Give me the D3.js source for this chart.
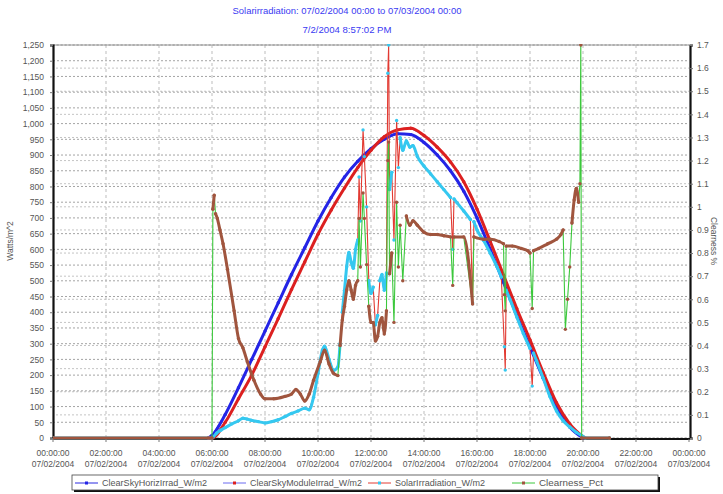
<!DOCTYPE html>
<html><head><meta charset="utf-8">
<script src="https://cdn.jsdelivr.net/npm/d3@7"></script>
<style>body{margin:0;background:#fff} text{font-family:"Liberation Sans",Arial,sans-serif}</style>
</head><body><svg id="c" width="723" height="494"></svg>
<script>
const titleLines = ["Solarirradiation: 07/02/2004 00:00 to 07/03/2004 00:00", "7/2/2004 8:57:02 PM"];
const yLeftTitle = "Watts/m^2";
const yRightTitle = "Clearness %";
const seriesNames = ["ClearSkyHorizIrrad_W/m2", "ClearSkyModuleIrrad_W/m2", "SolarIrradiation_W/m2", "Clearness_Pct"];
const xTickTimes = ["00:00","02:00","04:00","06:00","08:00","10:00","12:00","14:00","16:00","18:00","20:00","22:00","24:00"];
const xTickLabels = ["00:00:00","02:00:00","04:00:00","06:00:00","08:00:00","10:00:00","12:00:00","14:00:00","16:00:00","18:00:00","20:00:00","22:00:00","00:00:00"];
const xTickDates = ["07/02/2004","07/02/2004","07/02/2004","07/02/2004","07/02/2004","07/02/2004","07/02/2004","07/02/2004","07/02/2004","07/02/2004","07/02/2004","07/02/2004","07/03/2004"];
const leftTicks = [0,50,100,150,200,250,300,350,400,450,500,550,600,650,700,750,800,850,900,950,1000,1050,1100,1150,1200,1250];
const rightTicks = [0,0.1,0.2,0.3,0.4,0.5,0.6,0.7,0.8,0.9,1,1.1,1.2,1.3,1.4,1.5,1.6,1.7];

const clearTimes = ["05:52","06:00","06:30","07:00","07:30","08:00","08:30","09:00","09:30","10:00","10:30","11:00","11:30","12:00","12:30","13:00","13:30","14:00","14:30","15:00","15:30","16:00","16:30","17:00","17:30","18:00","18:30","19:00","19:30","20:00"];
const clearHoriz = [0,8,75,160,250,340,430,520,605,690,765,830,880,920,950,968,965,940,900,850,785,700,600,495,390,290,190,100,35,0];
const clearModule = [0,0,50,125,200,290,380,472,560,648,725,795,860,915,958,980,985,962,925,878,815,728,625,518,412,312,208,112,45,4];

const solarTimes = ["00:00","06:00","06:10","06:20","06:30","06:45","07:00","07:10","07:20","07:30","07:45","08:00","08:15","08:30","08:45","09:00","09:15","09:30","09:40","09:50","10:00","10:10","10:15","10:25","10:35","10:45","10:50","10:55","11:00","11:05","11:10","11:15","11:20","11:25","11:30","11:33","11:36","11:42","11:45","11:50","11:55","12:00","12:05","12:10","12:15","12:20","12:25","12:30","12:35","12:38","12:40","12:42","12:47","12:52","12:58","13:02","13:06","13:12","13:20","13:28","13:35","13:45","14:00","14:15","14:30","14:45","15:00","15:05","15:08","15:15","15:30","15:45","15:50","15:53","16:00","16:15","16:30","16:45","16:55","17:02","17:04","17:06","17:15","17:30","17:45","18:00","18:05","18:08","18:15","18:30","18:45","19:00","19:15","19:30","19:45","20:00","20:05","21:00"];
const solarValues = [0,0,15,25,33,45,55,63,60,56,52,48,52,58,68,78,86,95,90,130,205,280,292,250,215,226,300,400,470,545,590,560,540,600,630,830,690,980,895,735,500,460,480,360,390,500,520,470,525,1160,1250,790,845,630,1010,860,955,915,945,925,930,895,865,840,815,790,765,600,760,748,722,695,430,688,662,628,588,545,512,290,216,470,440,385,332,285,165,270,245,190,132,86,55,35,18,5,0,0];

const clearnessTimes = ["00:00","06:00","06:02","06:05","06:08","06:12","06:18","06:25","06:35","06:50","07:00","07:10","07:20","07:35","07:50","08:00","08:20","08:45","09:00","09:10","09:20","09:30","09:40","09:50","10:05","10:15","10:25","10:35","10:45","10:50","10:55","11:00","11:05","11:10","11:15","11:20","11:25","11:30","11:33","11:36","11:42","11:45","11:50","11:55","12:00","12:05","12:10","12:15","12:20","12:25","12:30","12:35","12:38","12:40","12:42","12:47","12:52","12:58","13:02","13:06","13:12","13:20","13:28","13:35","13:45","14:00","14:15","14:30","14:45","15:00","15:05","15:08","15:30","15:50","15:53","16:15","16:30","16:50","17:00","17:02","17:04","17:06","17:20","17:40","17:55","18:00","18:05","18:08","18:20","18:40","19:00","19:10","19:15","19:20","19:25","19:30","19:35","19:40","19:45","19:50","19:53","19:55","19:57","21:00"];
const clearnessValues = [0,0,0.99,1.05,0.97,0.95,0.90,0.84,0.73,0.55,0.43,0.39,0.33,0.25,0.19,0.17,0.17,0.18,0.19,0.21,0.19,0.16,0.19,0.25,0.33,0.38,0.32,0.28,0.27,0.40,0.51,0.57,0.64,0.68,0.64,0.60,0.66,0.68,0.95,0.74,1.06,0.95,0.75,0.57,0.50,0.50,0.42,0.44,0.50,0.52,0.45,0.55,1.20,1.28,0.71,0.80,0.50,1.02,0.74,0.92,0.68,0.96,0.92,0.94,0.92,0.89,0.88,0.88,0.875,0.87,0.66,0.87,0.87,0.58,0.87,0.86,0.86,0.85,0.84,0.62,0.55,0.83,0.83,0.82,0.81,0.80,0.56,0.81,0.82,0.84,0.86,0.88,0.90,0.47,0.60,0.74,0.93,1.03,1.08,1.02,1.10,1.70,0,0];

const lineColors = ["#2a2ae0", "#6a6af0", "#e23a32", "#3cc83c"];
const markColors = ["#2424e6", "#dc2020", "#35c8f0", "#a0553e"];

const parseT = s => { const [h, m] = s.split(":").map(Number); return h + m / 60; };
const svg = d3.select("#c");
const M = {left: 53, right: 689, top: 45, bottom: 438};
const x = d3.scaleLinear().domain([0, 24]).range([M.left, M.right]);
const yL = d3.scaleLinear().domain([0, 1250]).range([M.bottom, M.top]);
const yR = d3.scaleLinear().domain([0, 1.7]).range([M.bottom, M.top]);

// title
const titleWidths = [229, 89];
svg.append("g").selectAll("text").data(titleLines).join("text")
  .attr("x", 347).attr("y", (d, i) => 14 + i * 19).attr("text-anchor", "middle")
  .attr("font-size", 8.5).attr("fill", "#3a3af2")
  .attr("textLength", (d, i) => titleWidths[i]).attr("lengthAdjust", "spacingAndGlyphs").text(d => d);

// grid
const grid = svg.append("g");
grid.selectAll(null).data(rightTicks).join("line")
  .attr("x1", M.left).attr("x2", M.right).attr("y1", d => yR(d)).attr("y2", d => yR(d))
  .attr("stroke", "#c4c4c4").attr("stroke-dasharray", "2,2").attr("stroke-dashoffset", 1);
grid.selectAll(null).data(leftTicks).join("line")
  .attr("x1", M.left).attr("x2", M.right).attr("y1", d => yL(d)).attr("y2", d => yL(d))
  .attr("stroke", "#a4a4a4").attr("stroke-dasharray", "2,2");
grid.selectAll(null).data(xTickTimes.slice(1, -1)).join("line")
  .attr("x1", d => x(parseT(d))).attr("x2", d => x(parseT(d))).attr("y1", M.top).attr("y2", M.bottom)
  .attr("stroke", "#bdbdbd").attr("stroke-dasharray", "3,3");

// frame
svg.append("line").attr("x1", M.left).attr("x2", M.right).attr("y1", M.top).attr("y2", M.top).attr("stroke", "#9a9a9a");
svg.append("line").attr("x1", M.left).attr("x2", M.right + 1).attr("y1", M.bottom + 1).attr("y2", M.bottom + 1).attr("stroke", "#111").attr("stroke-width", 2.2);

// axes
const axL = svg.append("g").attr("transform", `translate(${M.left},0)`)
  .call(d3.axisLeft(yL).tickValues(leftTicks).tickFormat(d3.format(",")).tickSize(3).tickPadding(6));
const axR = svg.append("g").attr("transform", `translate(${M.right + 1},0)`)
  .call(d3.axisRight(yR).tickValues(rightTicks).tickFormat(d => String(+d.toFixed(1))).tickSize(3).tickPadding(4));
[axL, axR].forEach(a => {
  a.select(".domain").attr("stroke", "#111").attr("stroke-width", 2.2);
  a.selectAll(".tick line").attr("stroke", "#777");
  a.selectAll(".tick text").attr("font-size", 8.5).attr("fill", "#555").attr("font-family", "Liberation Sans, Arial, sans-serif");
});

// x axis labels
const xl = svg.append("g");
xl.selectAll(null).data(xTickTimes).join("line")
  .attr("x1", d => x(parseT(d))).attr("x2", d => x(parseT(d))).attr("y1", M.bottom + 1).attr("y2", M.bottom + 4).attr("stroke", "#777");
const xt = xl.selectAll(null).data(xTickTimes).join("text")
  .attr("text-anchor", "middle").attr("font-size", 8.5).attr("fill", "#555");
xt.append("tspan").attr("x", d => x(parseT(d))).attr("y", 456).text((d, i) => xTickLabels[i]);
xt.append("tspan").attr("x", d => x(parseT(d))).attr("y", 467).text((d, i) => xTickDates[i]);

// axis titles
svg.append("text").attr("transform", "translate(13,241) rotate(-90)").attr("text-anchor", "middle")
  .attr("font-size", 8.5).attr("fill", "#555").text(yLeftTitle);
svg.append("text").attr("transform", "translate(711,241) rotate(90)").attr("text-anchor", "middle")
  .attr("font-size", 8.5).attr("fill", "#555").text(yRightTitle);

// series
svg.append("clipPath").attr("id", "clip").append("rect")
  .attr("x", M.left).attr("y", M.top - 1).attr("width", M.right - M.left).attr("height", M.bottom - M.top + 4);

function drawSeries(times, vals, yScale, lineColor, markColor) {
  const g = svg.append("g").attr("clip-path", "url(#clip)");
  const P = times.map((t, i) => [x(parseT(t)), yScale(vals[i])]);
  g.append("path").attr("d", d3.line()(P)).attr("fill", "none").attr("stroke", lineColor).attr("stroke-width", 1.1);
  const runs = []; let cur = [P[0]];
  for (let i = 1; i < P.length; i++) {
    const dx = P[i][0] - P[i - 1][0], dy = Math.abs(P[i][1] - P[i - 1][1]);
    const jump = dy > 8 && dy / Math.max(dx, 0.01) > 12;
    if (jump) { if (cur.length > 1) runs.push(cur); cur = [P[i]]; } else cur.push(P[i]);
  }
  if (cur.length > 1) runs.push(cur);
  runs.forEach(r => g.append("path").attr("d", d3.line().curve(d3.curveMonotoneX)(r))
    .attr("fill", "none").attr("stroke", markColor).attr("stroke-width", 3)
    .attr("stroke-linecap", "round").attr("stroke-linejoin", "round"));
  g.selectAll(null).data(P).join("circle").attr("cx", d => d[0]).attr("cy", d => d[1]).attr("r", 1.7).attr("fill", markColor);
}
drawSeries(clearTimes, clearHoriz, yL, lineColors[0], markColors[0]);
drawSeries(clearTimes, clearModule, yL, lineColors[1], markColors[1]);
drawSeries(solarTimes, solarValues, yL, lineColors[2], markColors[2]);
drawSeries(clearnessTimes, clearnessValues, yR, lineColors[3], markColors[3]);

// legend
const lg = svg.append("g");
lg.append("rect").attr("x", 74).attr("y", 477).attr("width", 586).attr("height", 15).attr("fill", "#111");
lg.append("rect").attr("x", 72).attr("y", 475).attr("width", 586).attr("height", 15).attr("fill", "#fff").attr("stroke", "#444").attr("stroke-width", 0.8);
const legX = [75, 223, 368, 512];
const legW = [105, 112, 90, 64];
const it = lg.selectAll(null).data(seriesNames).join("g").attr("transform", (d, i) => `translate(${legX[i]},0)`);
it.append("line").attr("x1", 0).attr("x2", 23).attr("y1", 483).attr("y2", 483).attr("stroke", (d, i) => lineColors[i]).attr("stroke-width", 1);
it.append("rect").attr("x", 10).attr("y", 481.5).attr("width", 3).attr("height", 3).attr("fill", (d, i) => markColors[i]);
it.append("text").attr("x", 27).attr("y", 486).attr("font-size", 8.5).attr("fill", "#555")
  .attr("textLength", (d, i) => legW[i]).attr("lengthAdjust", "spacingAndGlyphs").text(d => d);
</script></body></html>
